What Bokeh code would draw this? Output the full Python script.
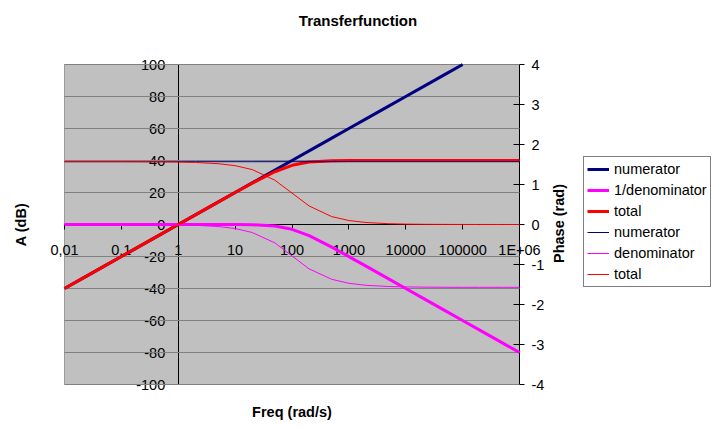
import math
from bokeh.plotting import figure
from bokeh.models import (Range1d, LinearAxis, FixedTicker, Label, Legend,
                          LegendItem, BoxAnnotation)
from bokeh.embed import file_html
from bokeh.resources import INLINE

# ---------------- data ----------------
freq = [0.01, 0.02, 0.05, 0.1, 0.2, 0.5, 1, 2, 5, 10, 20, 50, 100, 200, 500,
        1000, 2000, 5000, 10000, 20000, 50000, 100000, 200000, 500000, 1000000]

# amplitudes (dB, left axis)
numerator_db = [-40, -34, -26, -20, -14, -6, 0, 6, 14, 20, 26, 34, 40, 46, 54,
                60, 66, 74, 80, 86, 94, 100, 106, 114, 120]
inv_denominator_db = [0, 0, 0, 0, 0, 0, 0, 0, 0, -0.04, -0.17, -0.97, -3.01,
                      -6.99, -14.15, -20.04, -26.03, -33.98, -40, -46.02,
                      -53.98, -60, -66.02, -73.98, -80]
total_db = [-40, -34, -26, -20, -14, -6, 0, 6, 14, 19.96, 25.85, 32.97, 36.99,
            39.03, 39.83, 39.96, 39.99, 40, 40, 40, 40, 40, 40, 40, 40]

# phases (rad, right axis)
numerator_phase = [1.57, 1.57, 1.57, 1.57, 1.57, 1.57, 1.57, 1.57, 1.57, 1.57,
                   1.57, 1.57, 1.57, 1.57, 1.57, 1.57, 1.57, 1.57, 1.57, 1.57,
                   1.57, 1.57, 1.57, 1.57, 1.57]
denominator_phase = [0, 0, 0, 0, 0, -0.005, -0.01, -0.02, -0.05, -0.10, -0.20,
                     -0.46, -0.785, -1.11, -1.37, -1.47, -1.52, -1.55, -1.56,
                     -1.566, -1.569, -1.57, -1.57, -1.57, -1.57]
total_phase = [1.57, 1.57, 1.57, 1.57, 1.568, 1.566, 1.561, 1.551, 1.521, 1.471,
               1.373, 1.107, 0.785, 0.464, 0.197, 0.10, 0.05, 0.02, 0.01,
               0.005, 0.002, 0.001, 0.0005, 0.0002, 0.0001]

x_ticks = [0.01, 0.1, 1, 10, 100, 1000, 10000, 100000, 1000000]
x_tick_labels = ["0,01", "0,1", "1", "10", "100", "1000", "10000", "100000",
                 "1E+06"]
db_ticks = [-100, -80, -60, -40, -20, 0, 20, 40, 60, 80, 100]
db_tick_labels = ["-100", "-80", "-60", "-40", "-20", "0", "20", "40", "60",
                  "80", "100"]
phase_ticks = [-4, -3, -2, -1, 0, 1, 2, 3, 4]
phase_tick_labels = ["-4", "-3", "-2", "-1", "0", "1", "2", "3", "4"]

series_names = ["numerator", "1/denominator", "total",
                "numerator", "denominator", "total"]

# ---------------- layout geometry (pixels) ----------------
W, H = 714, 429
PL, PR, PT, PB = 64, 519, 64, 384          # plot-area edges on the canvas

x_min, x_max = x_ticks[0], x_ticks[-1]
db_min, db_max = db_ticks[0], db_ticks[-1]
ph_min, ph_max = phase_ticks[0], phase_ticks[-1]

ppd = (PR - PL) / (math.log10(x_max) - math.log10(x_min))
x_start = 10 ** (math.log10(x_min) - PL / ppd)
x_end = 10 ** (math.log10(x_max) + (W - PR) / ppd)
dpp = (db_max - db_min) / (PB - PT)
y_start = db_min - (H - PB) * dpp
y_end = db_max + PT * dpp
k = (ph_max - ph_min) / (db_max - db_min)

# ---------------- styling ----------------
FONT = "Liberation Sans"
NAVY = "#000080"
MAGENTA = "#FF00FF"
RED = "#FF0000"
TICK_FS = "14.5px"

p = figure(width=W, height=H, x_axis_type="log",
           x_range=Range1d(x_start, x_end), y_range=Range1d(y_start, y_end),
           output_backend="svg", toolbar_location=None,
           min_border=0, min_border_left=0, min_border_right=0,
           min_border_top=0, min_border_bottom=0)
p.extra_y_ranges = {"phase": Range1d(y_start * k, y_end * k)}
p.background_fill_color = "white"
p.border_fill_color = "white"
p.outline_line_color = None
p.xgrid.visible = False
p.ygrid.visible = False

# gray plot area
p.add_layout(BoxAnnotation(left=x_min, right=x_max, bottom=db_min, top=db_max,
                           fill_color="#C0C0C0", fill_alpha=1,
                           line_color="#9A9A9A", line_alpha=1, line_width=1,
                           level="image"))

# horizontal gridlines (the 0 dB line is the category axis)
grid_ticks = [t for t in db_ticks if t != 0]
p.segment(x0=[x_min] * len(grid_ticks), x1=[x_max] * len(grid_ticks),
          y0=grid_ticks, y1=grid_ticks, line_color="#808080", line_width=1)


def style_axis(ax, tick_in, tick_out, standoff):
    ax.level = "underlay"
    ax.minor_tick_line_color = None
    ax.major_tick_in = tick_in
    ax.major_tick_out = tick_out
    ax.axis_line_color = "black"
    ax.major_tick_line_color = "black"
    ax.major_label_standoff = standoff
    ax.major_label_text_font = FONT
    ax.major_label_text_font_size = TICK_FS
    ax.major_label_text_color = "black"


# x axis crossing at 0 dB
xa = p.xaxis[0]
xa.fixed_location = 0
xa.bounds = (x_min, x_max)
xa.ticker = FixedTicker(ticks=x_ticks)
xa.major_label_overrides = {float(t): s for t, s in zip(x_ticks, x_tick_labels)}
style_axis(xa, 0, 5, 12)

# left axis crossing at x = 1
ya = p.yaxis[0]
ya.fixed_location = 1
ya.bounds = (db_min, db_max)
ya.ticker = FixedTicker(ticks=db_ticks)
ya.major_label_overrides = {float(t): s for t, s in zip(db_ticks, db_tick_labels)}
style_axis(ya, 0, 5, 8)

# right (phase) axis at the right edge of the plot area
ra = LinearAxis(y_range_name="phase", fixed_location=x_max,
                ticker=FixedTicker(ticks=phase_ticks), bounds=(ph_min, ph_max))
ra.major_label_overrides = {float(t): s for t, s in zip(phase_ticks, phase_tick_labels)}
style_axis(ra, 6, 5, 7)
p.add_layout(ra, "right")

# ---------------- series ----------------
num_draw = [v if v <= db_max else float("nan") for v in numerator_db]
r1 = p.line(freq, num_draw, line_color=NAVY, line_width=3, line_join="round")
r2 = p.line(freq, inv_denominator_db, line_color=MAGENTA, line_width=3, line_join="round")
r3 = p.line(freq, total_db, line_color=RED, line_width=3, line_join="round")
r4 = p.line(freq, numerator_phase, y_range_name="phase", line_color=NAVY, line_width=1)
r5 = p.line(freq, denominator_phase, y_range_name="phase", line_color=MAGENTA, line_width=1)
r6 = p.line(freq, total_phase, y_range_name="phase", line_color=RED, line_width=1)

legend = Legend(items=[LegendItem(label=n, renderers=[r])
                       for n, r in zip(series_names, [r1, r2, r3, r4, r5, r6])],
                location=(583, H - 287))
legend.border_line_color = "black"
legend.border_line_width = 1
legend.background_fill_color = "white"
legend.background_fill_alpha = 1
legend.label_text_font = FONT
legend.label_text_font_size = TICK_FS
legend.label_text_color = "black"
legend.glyph_width = 22
legend.glyph_height = 18
legend.label_height = 18
legend.spacing = 3
legend.padding = 3
legend.label_standoff = 5
legend.margin = 0
p.add_layout(legend)

# ---------------- titles ----------------
def title_label(text, x, y, angle=0.0, size="14.5px"):
    p.add_layout(Label(x=x, y=H - y, x_units="screen", y_units="screen",
                       text=text, angle=angle, text_align="center",
                       text_baseline="middle", text_font=FONT,
                       text_font_size=size, text_font_style="bold",
                       text_color="black"))


title_label("Transferfunction", 357.5, 20, size="15px")
title_label("Freq (rad/s)", 291.5, 411)
title_label("A (dB)", 20, 224, angle=math.pi / 2)
title_label("Phase (rad)", 558, 223, angle=math.pi / 2)

open("out.html", "w").write(file_html(p, INLINE))
